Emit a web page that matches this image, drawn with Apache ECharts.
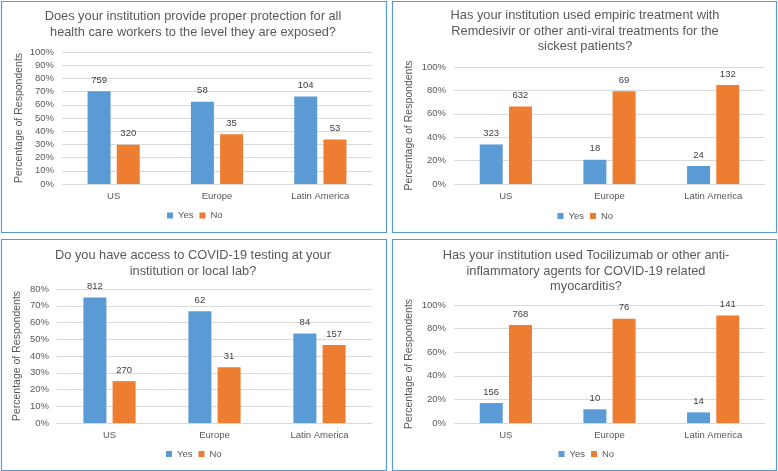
<!DOCTYPE html>
<html>
<head>
<meta charset="utf-8">
<script src="https://cdn.jsdelivr.net/npm/echarts@6/dist/echarts.min.js"></script>
<style>
html,body{margin:0;padding:0;background:#fff;}
#c{width:778px;height:471px;}
</style>
</head>
<body>
<div id="c"></div>
<script>
var categories = ['US', 'Europe', 'Latin America'];
var seriesNames = ['Yes', 'No'];

var titles = [
  'Does your institution provide proper protection for all\nhealth care workers to the level they are exposed?',
  'Has your institution used empiric treatment with\nRemdesivir or other anti-viral treatments for the\nsickest patients?',
  'Do you have access to COVID-19 testing at your\ninstitution or local lab?',
  'Has your institution used Tocilizumab or other anti-\ninflammatory agents for COVID-19 related\nmyocarditis?'
];

// percentages
var yesPct1 = [70.3, 62.4, 66.2];
var noPct1  = [29.7, 37.6, 33.8];
var yesPct2 = [33.8, 20.7, 15.4];
var noPct2  = [66.2, 79.3, 84.6];
var yesPct3 = [75.0, 66.7, 53.4];
var noPct3  = [25.0, 33.3, 46.5];
var yesPct4 = [16.9, 11.6, 9.0];
var noPct4  = [83.1, 88.4, 91.0];

// count labels shown above the bars
var yesCount1 = [759, 58, 104];
var noCount1  = [320, 35, 53];
var yesCount2 = [323, 18, 24];
var noCount2  = [632, 69, 132];
var yesCount3 = [812, 62, 84];
var noCount3  = [270, 31, 157];
var yesCount4 = [156, 10, 14];
var noCount4  = [768, 76, 141];

// y-axis ranges
var yMax = [100, 100, 80, 100];
var yInterval = [10, 20, 10, 20];

var yesData = [yesPct1, yesPct2, yesPct3, yesPct4];
var noData = [noPct1, noPct2, noPct3, noPct4];
var yesCounts = [yesCount1, yesCount2, yesCount3, yesCount4];
var noCounts = [noCount1, noCount2, noCount3, noCount4];

var FONT = 'Liberation Sans, Arial, sans-serif';
var TXT = '#595959';
var BLUE = '#5B9BD5';
var ORANGE = '#ED7D31';

var panels = [
  {box:[1,1,385,231], grid:{left:62, top:52, width:310, height:132}, title:{x:193, y:9}, legend:{x:195.5, y:216.5}, nameGap:37},
  {box:[392,1,384,231], grid:{left:454, top:67, width:311, height:117}, title:{x:585, y:8}, legend:{x:586, y:217}, nameGap:39},
  {box:[1,239,385,231], grid:{left:57, top:289, width:315, height:134}, title:{x:193, y:248}, legend:{x:194.5, y:455}, nameGap:34},
  {box:[392,239,384,231], grid:{left:454, top:305, width:311, height:118}, title:{x:586, y:248}, legend:{x:587, y:455}, nameGap:39}
];

var option = {
  animation: false,
  color: [BLUE, ORANGE],
  textStyle: {fontFamily: FONT},
  title: [], grid: [], xAxis: [], yAxis: [], legend: [], series: [], graphic: []
};

panels.forEach(function(p, i) {
  option.graphic.push({
    type: 'rect',
    shape: {x: p.box[0] + 0.5, y: p.box[1] + 0.5, width: p.box[2], height: p.box[3]},
    style: {fill: 'none', stroke: BLUE, lineWidth: 1.2},
    silent: true
  });
  option.title.push({
    text: titles[i],
    left: p.title.x, top: p.title.y,
    padding: 0,
    textAlign: 'center',
    textStyle: {fontFamily: FONT, fontSize: 12.8, fontWeight: 'normal', color: TXT, lineHeight: 15.5}
  });
  option.grid.push({left: p.grid.left, top: p.grid.top, width: p.grid.width, height: p.grid.height, containLabel: false});
  option.xAxis.push({
    type: 'category', gridIndex: i, data: categories,
    axisTick: {show: false},
    axisLine: {lineStyle: {color: '#D9D9D9', width: 1}},
    axisLabel: {color: TXT, fontSize: 9.5, fontFamily: FONT, margin: 7}
  });
  option.yAxis.push({
    type: 'value', gridIndex: i, min: 0, max: yMax[i], interval: yInterval[i],
    name: 'Percentage of Respondents', nameLocation: 'middle', nameGap: p.nameGap,
    nameTextStyle: {color: TXT, fontSize: 10.5, fontFamily: FONT},
    axisLine: {show: false}, axisTick: {show: false},
    splitLine: {lineStyle: {color: '#D9D9D9', width: 1}},
    axisLabel: {color: TXT, fontSize: 9.5, fontFamily: FONT, margin: 8, formatter: '{value}%'}
  });
  option.legend.push({
    data: seriesNames,
    left: p.legend.x - 28.5, top: p.legend.y - 6,
    padding: 0,
    orient: 'horizontal',
    itemWidth: 6, itemHeight: 6, itemGap: 6,
    icon: 'rect',
    textStyle: {color: TXT, fontSize: 9.5, fontFamily: FONT},
    selectedMode: false
  });
  [[yesData[i], yesCounts[i], seriesNames[0]], [noData[i], noCounts[i], seriesNames[1]]].forEach(function(s){
    var counts = s[1];
    option.series.push({
      type: 'bar', name: s[2], xAxisIndex: i, yAxisIndex: i,
      data: s[0], barWidth: 23, barGap: '27%',
      label: {show: true, position: 'top', distance: 6, color: '#404040', fontSize: 9.5, fontFamily: FONT,
        formatter: function(pp){ return String(counts[pp.dataIndex]); }}
    });
  });
});

var chart = echarts.init(document.getElementById('c'), null, {renderer: 'canvas'});
chart.setOption(option);
</script>
</body>
</html>
